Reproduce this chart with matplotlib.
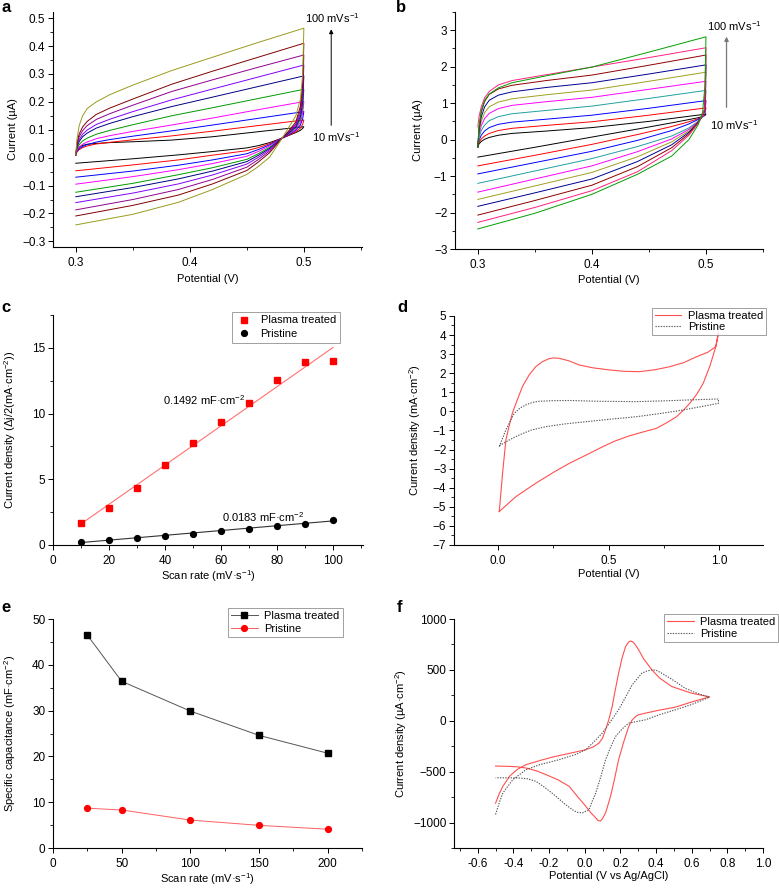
import numpy as np
import matplotlib
matplotlib.use('Agg')
import matplotlib.pyplot as plt
from matplotlib.ticker import MultipleLocator, FormatStrFormatter

plt.rcParams['font.family'] = ['Liberation Sans', 'DejaVu Sans']
plt.rcParams['mathtext.default'] = 'regular'
plt.rcParams['font.size'] = 8

# ---- panel a: CV of plasma-treated electrode, 10..100 mV/s ----
A_COLORS = ['#000000', '#ff0000', '#0000ff', '#ff00ff', '#009900',
            '#000080', '#8000ff', '#900090', '#800000', '#9a9a20']
A_UP_V = [0.300, 0.301, 0.303, 0.306, 0.31, 0.318, 0.33, 0.35, 0.384, 0.42, 0.46, 0.50]
A_UP_I = [
    [0.01, 0.025, 0.037, 0.044, 0.048, 0.051, 0.054, 0.057, 0.063, 0.075, 0.093, 0.111],
    [0.01, 0.020, 0.029, 0.036, 0.042, 0.049, 0.055, 0.064, 0.078, 0.095, 0.115, 0.135],
    [0.01, 0.022, 0.032, 0.040, 0.047, 0.056, 0.065, 0.077, 0.096, 0.117, 0.141, 0.165],
    [0.01, 0.025, 0.038, 0.048, 0.056, 0.068, 0.079, 0.094, 0.117, 0.142, 0.172, 0.201],
    [0.01, 0.030, 0.047, 0.060, 0.070, 0.084, 0.098, 0.118, 0.150, 0.179, 0.212, 0.245],
    [0.01, 0.037, 0.058, 0.075, 0.088, 0.106, 0.123, 0.147, 0.183, 0.217, 0.255, 0.293],
    [0.01, 0.040, 0.065, 0.084, 0.099, 0.119, 0.138, 0.165, 0.207, 0.246, 0.289, 0.332],
    [0.01, 0.045, 0.075, 0.097, 0.115, 0.137, 0.158, 0.188, 0.237, 0.279, 0.324, 0.368],
    [0.01, 0.050, 0.085, 0.110, 0.130, 0.155, 0.178, 0.210, 0.263, 0.310, 0.360, 0.410],
    [0.01, 0.065, 0.115, 0.150, 0.176, 0.200, 0.226, 0.260, 0.312, 0.360, 0.413, 0.464],
]
A_LO_V = [0.500, 0.499, 0.497, 0.493, 0.487, 0.481, 0.47, 0.46, 0.45, 0.42, 0.39, 0.35, 0.30]
A_LO_I = [
    [0.111, 0.105, 0.098, 0.090, 0.080, 0.070, 0.054, 0.043, 0.035, 0.022, 0.010, -0.004, -0.020],
    [0.135, 0.120, 0.106, 0.093, 0.081, 0.070, 0.050, 0.036, 0.025, 0.009, -0.008, -0.026, -0.047],
    [0.165, 0.140, 0.117, 0.098, 0.083, 0.070, 0.046, 0.029, 0.014, -0.008, -0.027, -0.048, -0.070],
    [0.201, 0.160, 0.127, 0.102, 0.085, 0.070, 0.042, 0.022, 0.005, -0.021, -0.043, -0.068, -0.095],
    [0.245, 0.180, 0.137, 0.107, 0.087, 0.070, 0.037, 0.014, -0.006, -0.036, -0.061, -0.092, -0.124],
    [0.293, 0.200, 0.147, 0.111, 0.089, 0.070, 0.033, 0.008, -0.014, -0.048, -0.076, -0.107, -0.140],
    [0.332, 0.220, 0.158, 0.115, 0.091, 0.070, 0.029, 0.001, -0.023, -0.062, -0.094, -0.127, -0.161],
    [0.368, 0.240, 0.170, 0.121, 0.094, 0.070, 0.024, -0.007, -0.034, -0.078, -0.114, -0.150, -0.187],
    [0.410, 0.265, 0.185, 0.128, 0.097, 0.070, 0.018, -0.016, -0.046, -0.094, -0.134, -0.171, -0.209],
    [0.464, 0.300, 0.210, 0.150, 0.110, 0.070, 0.002, -0.032, -0.060, -0.114, -0.160, -0.203, -0.241],
]

# ---- panel b: CV of pristine electrode, 10..100 mV/s ----
B_COLORS = ['#000000', '#ff0000', '#0000ff', '#20a0a0', '#ff00ff',
            '#a0a020', '#000090', '#900000', '#ff2080', '#00a000']
B_UP_V = [0.300, 0.301, 0.303, 0.306, 0.31, 0.318, 0.33, 0.36, 0.40, 0.45, 0.50]
B_UP_I = [
    [-0.2, -0.12, -0.05, 0.01, 0.06, 0.12, 0.17, 0.235, 0.33, 0.50, 0.70],
    [-0.2, -0.08, 0.02, 0.10, 0.17, 0.25, 0.31, 0.39, 0.49, 0.67, 0.87],
    [-0.2, -0.02, 0.12, 0.24, 0.33, 0.42, 0.48, 0.56, 0.67, 0.86, 1.07],
    [-0.2, 0.05, 0.25, 0.40, 0.52, 0.63, 0.71, 0.80, 0.92, 1.13, 1.35],
    [-0.2, 0.12, 0.38, 0.58, 0.72, 0.85, 0.94, 1.04, 1.16, 1.38, 1.60],
    [-0.2, 0.18, 0.50, 0.74, 0.90, 1.03, 1.12, 1.23, 1.36, 1.60, 1.85],
    [-0.2, 0.25, 0.62, 0.90, 1.08, 1.22, 1.31, 1.43, 1.56, 1.80, 2.05],
    [-0.2, 0.32, 0.75, 1.05, 1.24, 1.39, 1.49, 1.62, 1.77, 2.04, 2.32],
    [0.35, 0.62, 0.90, 1.15, 1.32, 1.50, 1.62, 1.78, 1.99, 2.25, 2.52],
    [-0.2, 0.35, 0.80, 1.08, 1.25, 1.42, 1.56, 1.75, 1.99, 2.40, 2.82],
]
B_LO_V = [0.500, 0.499, 0.497, 0.493, 0.485, 0.47, 0.44, 0.40, 0.35, 0.30]
B_LO_I = [
    [0.70, 0.66, 0.63, 0.60, 0.55, 0.46, 0.29, 0.07, -0.21, -0.48],
    [0.87, 0.70, 0.63, 0.57, 0.49, 0.36, 0.14, -0.13, -0.43, -0.72],
    [1.07, 0.72, 0.63, 0.55, 0.43, 0.25, -0.02, -0.32, -0.63, -0.94],
    [1.35, 0.75, 0.62, 0.50, 0.32, 0.10, -0.19, -0.52, -0.86, -1.20],
    [1.60, 0.78, 0.63, 0.49, 0.28, 0.02, -0.33, -0.72, -1.08, -1.44],
    [1.85, 0.80, 0.64, 0.48, 0.24, -0.06, -0.47, -0.90, -1.27, -1.64],
    [2.05, 0.82, 0.65, 0.47, 0.20, -0.14, -0.60, -1.08, -1.46, -1.83],
    [2.32, 0.85, 0.66, 0.46, 0.16, -0.22, -0.74, -1.25, -1.67, -2.07],
    [2.52, 0.88, 0.66, 0.44, 0.12, -0.30, -0.88, -1.40, -1.86, -2.27],
    [2.82, 1.45, 0.75, 0.40, 0.00, -0.45, -0.95, -1.50, -2.02, -2.45],
]

# ---- panel c: half current-density difference vs scan rate ----
C_RATE = [10, 20, 30, 40, 50, 60, 70, 80, 90, 100]
C_PLASMA = [1.70, 2.80, 4.37, 6.05, 7.77, 9.34, 10.79, 12.57, 13.91, 13.99]
C_PRISTINE = [0.20, 0.35, 0.50, 0.66, 0.86, 1.06, 1.22, 1.42, 1.57, 1.90]
C_SLOPES = [0.1492, 0.0183]
C_INTERCEPTS = [0.108, 0.0]

# ---- panel d: CV, plasma treated vs pristine ----
D_PLASMA_V = [0.005, 0.02, 0.035, 0.05, 0.065, 0.085, 0.11, 0.14, 0.17, 0.20, 0.23, 0.25,
              0.277, 0.32, 0.368, 0.43, 0.505, 0.57, 0.64, 0.71, 0.777, 0.84, 0.90, 0.95,
              0.986, 0.998,
              0.986, 0.96, 0.929, 0.90, 0.868, 0.84, 0.808, 0.76, 0.717, 0.65, 0.595,
              0.53, 0.474, 0.40, 0.323, 0.25, 0.17, 0.08, 0.005]
D_PLASMA_J = [-5.25, -3.25, -1.5, -0.75, -0.07, 0.55, 1.3, 1.9, 2.34, 2.6, 2.76, 2.8,
              2.78, 2.65, 2.43, 2.28, 2.17, 2.1, 2.08, 2.18, 2.34, 2.55, 2.87, 3.1,
              3.39, 4.1,
              3.39, 2.4, 1.47, 0.9, 0.42, 0.07, -0.28, -0.62, -0.89, -1.1, -1.28,
              -1.55, -1.85, -2.28, -2.72, -3.2, -3.77, -4.47, -5.25]
D_PRIST_V = [0.005, 0.035, 0.073, 0.10, 0.126, 0.155, 0.186, 0.25, 0.323, 0.45, 0.626,
             0.75, 0.868, 0.998,
             0.998, 0.92, 0.838, 0.73, 0.626, 0.5, 0.399, 0.3, 0.217, 0.15, 0.095,
             0.05, 0.005]
D_PRIST_J = [-1.85, -0.97, -0.1, 0.18, 0.34, 0.47, 0.53, 0.56, 0.57, 0.53, 0.51,
             0.55, 0.60, 0.65,
             0.42, 0.25, 0.07, -0.12, -0.28, -0.42, -0.54, -0.66, -0.80, -0.98, -1.24,
             -1.50, -1.80]

# ---- panel e: specific capacitance vs scan rate ----
E_RATE = [25, 50, 100, 150, 200]
E_PLASMA = [46.5, 36.4, 29.9, 24.6, 20.7]
E_PRISTINE = [8.7, 8.3, 6.1, 4.95, 4.1]

# ---- panel f: ferri/ferrocyanide CV ----
F_PLASMA_V = [-0.5, -0.48, -0.459, -0.422, -0.38, -0.329, -0.25, -0.18, -0.08, 0.006,
              0.05, 0.08, 0.10, 0.117, 0.135, 0.154, 0.17, 0.19, 0.21, 0.229, 0.245,
              0.257, 0.27, 0.285, 0.303, 0.33, 0.377, 0.42, 0.489, 0.6, 0.7,
              0.6, 0.508, 0.42, 0.34, 0.30, 0.285, 0.265, 0.247, 0.22, 0.19, 0.165,
              0.145, 0.117, 0.10, 0.088, 0.075, 0.062, 0.035, 0.006, -0.04, -0.087,
              -0.15, -0.217, -0.27, -0.329, -0.38, -0.422, -0.5]
F_PLASMA_J = [-810, -720, -644, -546, -480, -431, -390, -356, -318, -284,
              -255, -219, -170, -88, 10, 140, 290, 467, 620, 728, 772,
              784, 775, 745, 696, 610, 500, 420, 336, 271, 235,
              185, 134, 105, 75, 58, 42, 5, -56, -200, -382, -590,
              -742, -905, -960, -985, -980, -954, -905, -840, -745, -644,
              -580, -529, -492, -464, -452, -448, -445]
F_PRIST_V = [-0.5, -0.48, -0.459, -0.403, -0.329, -0.25, -0.143, -0.05, 0.006, 0.05,
             0.098, 0.14, 0.19, 0.23, 0.266, 0.32, 0.35, 0.377, 0.40, 0.433, 0.5,
             0.563, 0.63, 0.7,
             0.6, 0.508, 0.42, 0.34, 0.247, 0.21, 0.173, 0.145, 0.117, 0.09, 0.062,
             0.04, 0.024, -0.013, -0.045, -0.069, -0.11, -0.161, -0.22, -0.273,
             -0.32, -0.366, -0.43, -0.5]
F_PRIST_J = [-920, -810, -709, -578, -480, -430, -382, -330, -284, -210,
             -121, -20, 108, 235, 353, 467, 490, 500, 497, 467, 395,
             320, 270, 232,
             160, 108, 60, 10, -23, -80, -154, -260, -382, -550, -709,
             -800, -873, -905, -898, -873, -820, -742, -660, -595,
             -570, -562, -560, -560]

RED_SOFT = '#ff5050'
GRAY_DOT = '#555555'
TICK_FS = 8.5
LABEL_FS = 8


def style_axes(ax, xmaj, xmin, ymaj, ymin):
    for side in ('top', 'right'):
        ax.spines[side].set_visible(False)
    for side in ('left', 'bottom'):
        ax.spines[side].set_linewidth(0.8)
    ax.xaxis.set_major_locator(MultipleLocator(xmaj))
    ax.xaxis.set_minor_locator(MultipleLocator(xmin))
    ax.yaxis.set_major_locator(MultipleLocator(ymaj))
    ax.yaxis.set_minor_locator(MultipleLocator(ymin))
    ax.tick_params(which='major', direction='out', length=3.5, width=0.7, labelsize=TICK_FS)
    ax.tick_params(axis='x', which='major', pad=3.5)
    ax.tick_params(axis='y', which='major', pad=2)
    ax.tick_params(which='minor', direction='out', length=2, width=0.6)


def legend_box(ax, anchor, **kw):
    leg = ax.legend(loc='upper left', bbox_to_anchor=anchor, fontsize=LABEL_FS, frameon=True,
                    fancybox=False, edgecolor='#888888', borderaxespad=0, **kw)
    leg.get_frame().set_linewidth(0.7)
    return leg


def panel_letter(fig, x, y, s):
    fig.text(x / 779, 1 - y / 889, s, fontsize=12, fontweight='bold', ha='left', va='center')


fig = plt.figure(figsize=(7.79, 8.89), dpi=100)
ax_a = fig.add_axes([0.0680, 0.7222, 0.3967, 0.2643])
ax_b = fig.add_axes([0.5841, 0.7199, 0.3954, 0.2666])
ax_c = fig.add_axes([0.0680, 0.3870, 0.3980, 0.2587])
ax_d = fig.add_axes([0.5828, 0.3870, 0.3967, 0.2576])
ax_e = fig.add_axes([0.0680, 0.0461, 0.3967, 0.2576])
ax_f = fig.add_axes([0.5828, 0.0461, 0.3967, 0.2576])

# a
for col, up, lo in zip(A_COLORS, A_UP_I, A_LO_I):
    ax_a.plot(A_UP_V + A_LO_V, up + lo, color=col, lw=0.7)
ax_a.set_xlim(0.28, 0.551)
ax_a.set_ylim(-0.32, 0.522)
style_axes(ax_a, 0.1, 0.05, 0.1, 0.05)
ax_a.xaxis.set_major_formatter(FormatStrFormatter('%.1f'))
ax_a.set_xlabel('Potential (V)', fontsize=LABEL_FS)
ax_a.set_ylabel('Current (µA)', fontsize=LABEL_FS)
ax_a.xaxis.set_label_coords(0.5, -0.115)
ax_a.yaxis.set_label_coords(-0.113, 0.5)
ax_a.annotate('', xy=(0.524, 0.47), xytext=(0.524, 0.106),
              arrowprops=dict(arrowstyle='-|>', color='k', lw=0.7, mutation_scale=6),
              annotation_clip=False)
ax_a.text(0.525, 0.50, '100 mVs$^{-1}$', ha='center', va='center', fontsize=LABEL_FS,
          clip_on=False)
ax_a.text(0.528, 0.074, '10 mVs$^{-1}$', ha='center', va='center', fontsize=LABEL_FS,
          clip_on=False)

# b
for col, up, lo in zip(B_COLORS, B_UP_I, B_LO_I):
    ax_b.plot(B_UP_V + B_LO_V, up + lo, color=col, lw=0.7)
ax_b.set_xlim(0.28, 0.55)
ax_b.set_ylim(-3, 3.5)
style_axes(ax_b, 0.1, 0.05, 1, 0.5)
ax_b.xaxis.set_major_formatter(FormatStrFormatter('%.1f'))
ax_b.set_xlabel('Potential (V)', fontsize=LABEL_FS)
ax_b.set_ylabel('Current (µA)', fontsize=LABEL_FS)
ax_b.xaxis.set_label_coords(0.5, -0.11)
ax_b.yaxis.set_label_coords(-0.104, 0.5)
ax_b.annotate('', xy=(0.518, 2.9), xytext=(0.518, 0.81),
              arrowprops=dict(arrowstyle='-|>', color='#777777', lw=0.9, mutation_scale=6),
              annotation_clip=False)
ax_b.text(0.525, 3.11, '100 mVs$^{-1}$', ha='center', va='center', fontsize=LABEL_FS,
          clip_on=False)
ax_b.text(0.525, 0.40, '10 mVs$^{-1}$', ha='center', va='center', fontsize=LABEL_FS,
          clip_on=False)

# c
rate = np.array(C_RATE)
ax_c.plot(rate, C_SLOPES[0] * rate + C_INTERCEPTS[0], color='#ff7070', lw=0.8)
ax_c.plot(rate, C_SLOPES[1] * rate + C_INTERCEPTS[1], color='#333333', lw=0.8)
ax_c.plot(C_RATE, C_PLASMA, 's', color='#ff0000', ms=4.2, ls='none', label='Plasma treated')
ax_c.plot(C_RATE, C_PRISTINE, 'o', color='#000000', ms=4.2, ls='none', label='Pristine')
ax_c.set_xlim(0, 110.7)
ax_c.set_ylim(0, 17.5)
style_axes(ax_c, 20, 10, 5, 2.5)
ax_c.set_xlabel('Scan rate (mV·s$^{-1}$)', fontsize=LABEL_FS)
ax_c.set_ylabel('Current density (Δj/2(mA·cm$^{-2}$))', fontsize=LABEL_FS)
ax_c.xaxis.set_label_coords(0.5, -0.1)
ax_c.yaxis.set_label_coords(-0.113, 0.5)
ax_c.text(54, 11.0, '0.1492 mF·cm$^{-2}$', ha='center', va='center', fontsize=LABEL_FS)
ax_c.text(75, 2.15, '0.0183 mF·cm$^{-2}$', ha='center', va='center', fontsize=LABEL_FS)
legend_box(ax_c, (0.578, 1.015), handletextpad=0.8, borderpad=0.35, labelspacing=0.3,
           handlelength=1.4)

# d
ax_d.plot(D_PLASMA_V, D_PLASMA_J, color=RED_SOFT, lw=0.8, label='Plasma treated')
ax_d.plot(D_PRIST_V, D_PRIST_J, color=GRAY_DOT, lw=0.8, ls=(0, (1.2, 1.2)), label='Pristine')
ax_d.set_xlim(-0.2, 1.2)
ax_d.set_ylim(-7, 5)
style_axes(ax_d, 0.5, 0.25, 1, 0.5)
ax_d.set_xlabel('Potential (V)', fontsize=LABEL_FS)
ax_d.set_ylabel('Current density (mA·cm$^{-2}$)', fontsize=LABEL_FS)
ax_d.xaxis.set_label_coords(0.5, -0.105)
ax_d.yaxis.set_label_coords(-0.10, 0.5)
legend_box(ax_d, (0.64, 1.035), borderpad=0.25, labelspacing=0.15, handlelength=2.4,
           handletextpad=0.6)

# e
ax_e.plot(E_RATE, E_PLASMA, '-s', color='#555555', mfc='#000000', mec='#000000', ms=4.2,
          lw=0.7, label='Plasma treated')
ax_e.plot(E_RATE, E_PRISTINE, '-o', color='#ff6060', mfc='#ff0000', mec='#ff0000', ms=4.2,
          lw=0.7, label='Pristine')
ax_e.set_xlim(0, 225)
ax_e.set_ylim(0, 50)
style_axes(ax_e, 50, 25, 10, 5)
ax_e.set_xlabel('Scan rate (mV·s$^{-1}$)', fontsize=LABEL_FS)
ax_e.set_ylabel('Specific capacitance (mF·cm$^{-2}$)', fontsize=LABEL_FS)
ax_e.xaxis.set_label_coords(0.5, -0.1)
ax_e.yaxis.set_label_coords(-0.113, 0.5)
legend_box(ax_e, (0.565, 1.05), borderpad=0.3, labelspacing=0.25, handlelength=2.4,
           handletextpad=0.6)

# f
ax_f.plot(F_PLASMA_V, F_PLASMA_J, color=RED_SOFT, lw=0.8, label='Plasma treated')
ax_f.plot(F_PRIST_V, F_PRIST_J, color=GRAY_DOT, lw=0.8, ls=(0, (1.2, 1.2)), label='Pristine')
ax_f.set_xlim(-0.733, 1.0)
ax_f.set_ylim(-1250, 1000)
style_axes(ax_f, 0.2, 0.1, 500, 250)
ax_f.xaxis.set_major_formatter(FormatStrFormatter('%.1f'))
ax_f.set_xlabel('Potential (V vs Ag/AgCl)', fontsize=LABEL_FS)
ax_f.set_ylabel('Current density (µA·cm$^{-2}$)', fontsize=LABEL_FS)
ax_f.xaxis.set_label_coords(0.5, -0.1)
ax_f.yaxis.set_label_coords(-0.146, 0.5)
legend_box(ax_f, (0.68, 1.02), borderpad=0.25, labelspacing=0.15, handlelength=2.4,
           handletextpad=0.6)

panel_letter(fig, 1, 8, 'a')
panel_letter(fig, 396, 8, 'b')
panel_letter(fig, 1, 308, 'c')
panel_letter(fig, 397, 308, 'd')
panel_letter(fig, 1, 608, 'e')
panel_letter(fig, 397, 608, 'f')

fig.savefig('out.png', dpi=100, facecolor='white')
